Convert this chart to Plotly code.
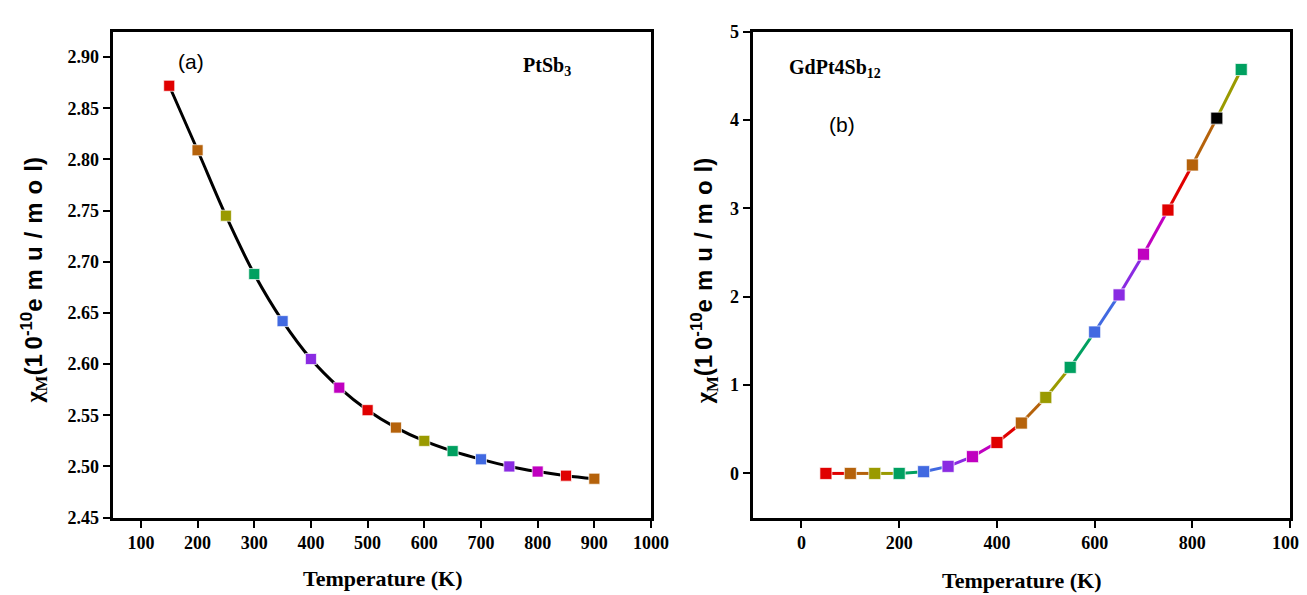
import plotly.graph_objects as go

# ---- data ----
temp_a = [150, 200, 250, 300, 350, 400, 450, 500, 550, 600, 650, 700, 750, 800, 850, 900]
chi_a = [2.872, 2.809, 2.745, 2.688, 2.642, 2.605, 2.577, 2.555, 2.538, 2.525,
         2.515, 2.507, 2.500, 2.495, 2.491, 2.488]
temp_b = [50, 100, 150, 200, 250, 300, 350, 400, 450, 500, 550, 600, 650, 700, 750, 800, 850, 900]
chi_b = [0.0, 0.0, 0.0, 0.0, 0.02, 0.08, 0.19, 0.35, 0.57, 0.86, 1.20, 1.60,
         2.02, 2.48, 2.98, 3.49, 4.02, 4.57]

# tick values / labels
xticks_a = [100, 200, 300, 400, 500, 600, 700, 800, 900, 1000]
yticks_a = [2.45, 2.50, 2.55, 2.60, 2.65, 2.70, 2.75, 2.80, 2.85, 2.90]
xticks_b = [0, 200, 400, 600, 800, 1000]
yticks_b = [0, 1, 2, 3, 4, 5]

RED, BRN, OLV, GRN, BLU, PUR, MAG, BLK = ("#E00000", "#B5620B", "#9A9A00", "#00A060",
                                          "#4169E1", "#8A2BE2", "#C000C0", "#000000")
cycle = [RED, BRN, OLV, GRN, BLU, PUR, MAG]
marker_colors_a = [cycle[i % 7] for i in range(len(temp_a))]
marker_colors_b = [cycle[i % 7] for i in range(len(temp_b))]
marker_colors_b[16] = BLK
marker_colors_b[17] = GRN
segment_colors_b = [cycle[i % 7] for i in range(len(temp_b) - 1)]

fig = go.Figure()

# panel a
fig.add_trace(go.Scatter(x=temp_a, y=chi_a, mode="lines", line=dict(color="black", width=3, shape="spline"),
                         xaxis="x", yaxis="y", showlegend=False, hoverinfo="skip"))
fig.add_trace(go.Scatter(x=temp_a, y=chi_a, mode="markers",
                         marker=dict(symbol="square", size=11, color=marker_colors_a,
                                     line=dict(color="rgba(255,255,255,0.7)", width=1)),
                         xaxis="x", yaxis="y", showlegend=False))

# panel b
for i in range(len(temp_b) - 1):
    fig.add_trace(go.Scatter(x=temp_b[i:i + 2], y=chi_b[i:i + 2], mode="lines",
                             line=dict(color=segment_colors_b[i], width=3),
                             xaxis="x2", yaxis="y2", showlegend=False, hoverinfo="skip"))
fig.add_trace(go.Scatter(x=temp_b, y=chi_b, mode="markers",
                         marker=dict(symbol="square", size=12, color=marker_colors_b,
                                     line=dict(color="rgba(255,255,255,0.7)", width=1)),
                         xaxis="x2", yaxis="y2", showlegend=False))

TICKFONT = dict(family="Liberation Serif", size=18, color="black")

xdom_a = [106 / 1307, 652 / 1307]
xdom_b = [755 / 1307, 1300 / 1307]
ydom = [1 - 517 / 595, 1 - 14 / 595]


def major(vals, fmt, **kw):
    d = dict(showline=True, linewidth=3, linecolor="black", mirror=True, ticks="outside",
             tickwidth=2, ticklen=7, tickcolor="black", showgrid=False, zeroline=False,
             tickfont=TICKFONT, tickmode="array", tickvals=vals,
             ticktext=["<b>" + fmt.format(v) + "</b>" for v in vals])
    d.update(kw)
    return d


def minor(**kw):
    d = dict(showline=False, ticks="outside", tickwidth=2, ticklen=4, tickcolor="black",
             showgrid=False, zeroline=False, showticklabels=False)
    d.update(kw)
    return d


fig.update_layout(
    width=1307, height=595, margin=dict(l=0, r=0, t=0, b=0),
    plot_bgcolor="white", paper_bgcolor="white",
    xaxis=major(xticks_a, "{:d}", domain=xdom_a, range=[50, 1000], anchor="y"),
    yaxis=major(yticks_a, "{:.2f}", domain=ydom, range=[2.45, 2.925], anchor="x"),
    xaxis2=major(xticks_b, "{:d}", domain=xdom_b, range=[-100, 1000], anchor="y2"),
    yaxis2=major(yticks_b, "{:d}", domain=ydom, range=[-0.5, 5], anchor="x2"),
    # minor-tick overlay axes
    xaxis3=minor(domain=xdom_a, range=[50, 1000], tick0=50, dtick=100, overlaying="x", anchor="y", side="bottom"),
    yaxis3=minor(domain=ydom, range=[2.45, 2.925], tick0=2.475, dtick=0.05, overlaying="y", anchor="x", side="left"),
    xaxis4=minor(domain=xdom_b, range=[-100, 1000], tick0=-100, dtick=200, overlaying="x2", anchor="y2", side="bottom"),
    yaxis4=minor(domain=ydom, range=[-0.5, 5], tick0=-0.5, dtick=1, overlaying="y2", anchor="x2", side="left"),
)

serif_bold = dict(family="Liberation Serif", size=22, color="black")
sp = "\u2004"
ytitle = ("<b><span style='font-family:Liberation Serif'>χ<sub>M</sub></span>(1" + "\u2009" + "0<sup>-10</sup>"
          + sp.join("emu/mol") + ")</b>")
sans_bold = dict(family="Liberation Sans", size=24, color="black")
sans_norm = dict(family="Liberation Sans", size=21, color="black")
annotations = [
    dict(text="<b>Temperature (K)</b>", x=380, y=580, font=serif_bold),
    dict(text="<b>Temperature (K)</b>", x=1028, y=582, font=serif_bold),
    dict(text=ytitle, x=26, y=272, textangle=-90, font=sans_bold),
    dict(text=ytitle, x=706, y=272, textangle=-90, font=sans_bold),
    dict(text="(a)", x=186, y=45, font=sans_norm),
    dict(text="(b)", x=846, y=110, font=sans_norm),
    dict(text="<b>PtSb<sub>3</sub></b>", x=547, y=50, font=dict(family="Liberation Serif", size=20, color="black")),
    dict(text="<b>GdPt4Sb<sub>12</sub></b>", x=839, y=52, font=dict(family="Liberation Serif", size=20, color="black")),
]
for a in annotations:
    fig.add_annotation(text=a["text"], x=a["x"] / 1307, y=1 - a["y"] / 595, xref="paper", yref="paper",
                       showarrow=False, font=a["font"], textangle=a.get("textangle", 0),
                       xanchor="center", yanchor="middle")

fig.write_html("out.html")
